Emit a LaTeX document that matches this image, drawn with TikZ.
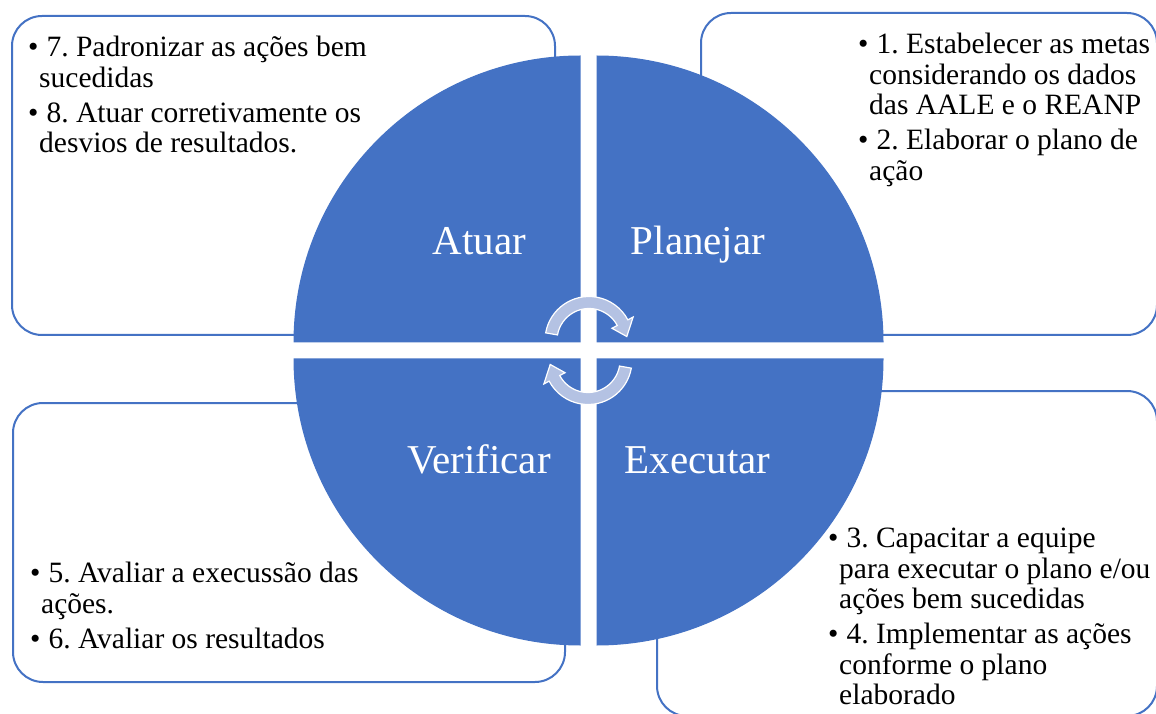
\documentclass[tikz,border=0pt]{standalone}
\usepackage{fontspec}
\setmainfont{Liberation Serif}
\usetikzlibrary{positioning}

\definecolor{pdcablue}{HTML}{4472C4}
\definecolor{pdcaarrow}{RGB}{180,194,227}

\newcommand{\itemline}[1]{\makebox[11pt][l]{\textbullet}\ #1}
\newcommand{\contline}[1]{\hspace*{11pt}#1}
\frenchspacing

\begin{document}
\begin{tikzpicture}[x=1pt, y=1pt,
    box/.style        = {draw=pdcablue, line width=2pt, rounded corners=30pt,
      fill=white, inner sep=0pt},
    quad/.style       = {fill=pdcablue},
    quadlabel/.style  = {text=white, font=\fontsize{41}{45}\selectfont, inner sep=0pt},
    bullets/.style    = {align=left, font=\fontsize{29.5}{30.5}\selectfont, inner sep=0pt},
    cyclearrow/.style = {fill=pdcaarrow, draw=white, line width=1.2pt},
  ]
  \useasboundingbox (0,0) rectangle (1156,713);

  \node[box, minimum width=543pt, minimum height=319pt] (boxact)   at (283.5,537.5) {};
  \node[box, minimum width=456pt, minimum height=322pt] (boxplan)  at (929,539) {};
  \node[box, minimum width=552pt, minimum height=279pt] (boxcheck) at (289,170.5) {};
  \node[box, minimum width=500pt, minimum height=325pt] (boxdo)    at (907,159.5) {};

  \coordinate (ctr) at (588.5,362.5);
  \fill[quad] ([shift={(-8,8)}]ctr) -- ++(180:287) arc[start angle=180, end angle=90, radius=287] -- cycle;
  \fill[quad] ([shift={(8,8)}]ctr) -- ++(90:287) arc[start angle=90, end angle=0, radius=287] -- cycle;
  \fill[quad] ([shift={(-8,-8)}]ctr) -- ++(270:287) arc[start angle=270, end angle=180, radius=287] -- cycle;
  \fill[quad] ([shift={(8,-8)}]ctr) -- ++(0:287) arc[start angle=0, end angle=-90, radius=287] -- cycle;

  \node[quadlabel, anchor=base] (atuar)     at (479.5,458) {Atuar};
  \node[quadlabel, anchor=base] (planejar)  at (698,458) {Planejar};
  \node[quadlabel, anchor=base] (verificar) at (479,240) {Verificar};
  \node[quadlabel, anchor=base] (executar)  at (697.5,240) {Executar};

  \foreach \ang in {0,180}{
    \begin{scope}[shift={(ctr)}, rotate=\ang]
      \path[cyclearrow] ([shift={(0.5,10)}]170:44) arc[start angle=170, end angle=28, radius=44]
        -- ([shift={(0.5,10)}]28:50) -- ([shift={(0.5,10)}]6:38) -- ([shift={(0.5,10)}]28:26)
        -- ([shift={(0.5,10)}]28:32) arc[start angle=28, end angle=170, radius=32] -- cycle;
    \end{scope}
  }

  \node[bullets, anchor=north west] (actlist) at (28,677)
    {\itemline{7. Padronizar as ações bem}\\ \contline{sucedidas}\\[4.5pt]
     \itemline{8. Atuar corretivamente os}\\ \contline{desvios de resultados.}};
  \node[bullets, anchor=north west] (planlist) at (858,680)
    {\itemline{1. Estabelecer as metas}\\ \contline{considerando os dados}\\
     \contline{das AALE e o REANP}\\[4.5pt]
     \itemline{2. Elaborar o plano de}\\ \contline{ação}};
  \node[bullets, anchor=north west] (checklist) at (30,151)
    {\itemline{5. Avaliar a execussão das}\\ \contline{ações.}\\[4.5pt]
     \itemline{6. Avaliar os resultados}};
  \node[bullets, anchor=north west] (dolist) at (828,185)
    {\itemline{3. Capacitar a equipe}\\ \contline{para executar o plano e/ou}\\
     \contline{ações bem sucedidas}\\[4.5pt]
     \itemline{4. Implementar as ações}\\ \contline{conforme o plano}\\
     \contline{elaborado}};
\end{tikzpicture}
\end{document}
